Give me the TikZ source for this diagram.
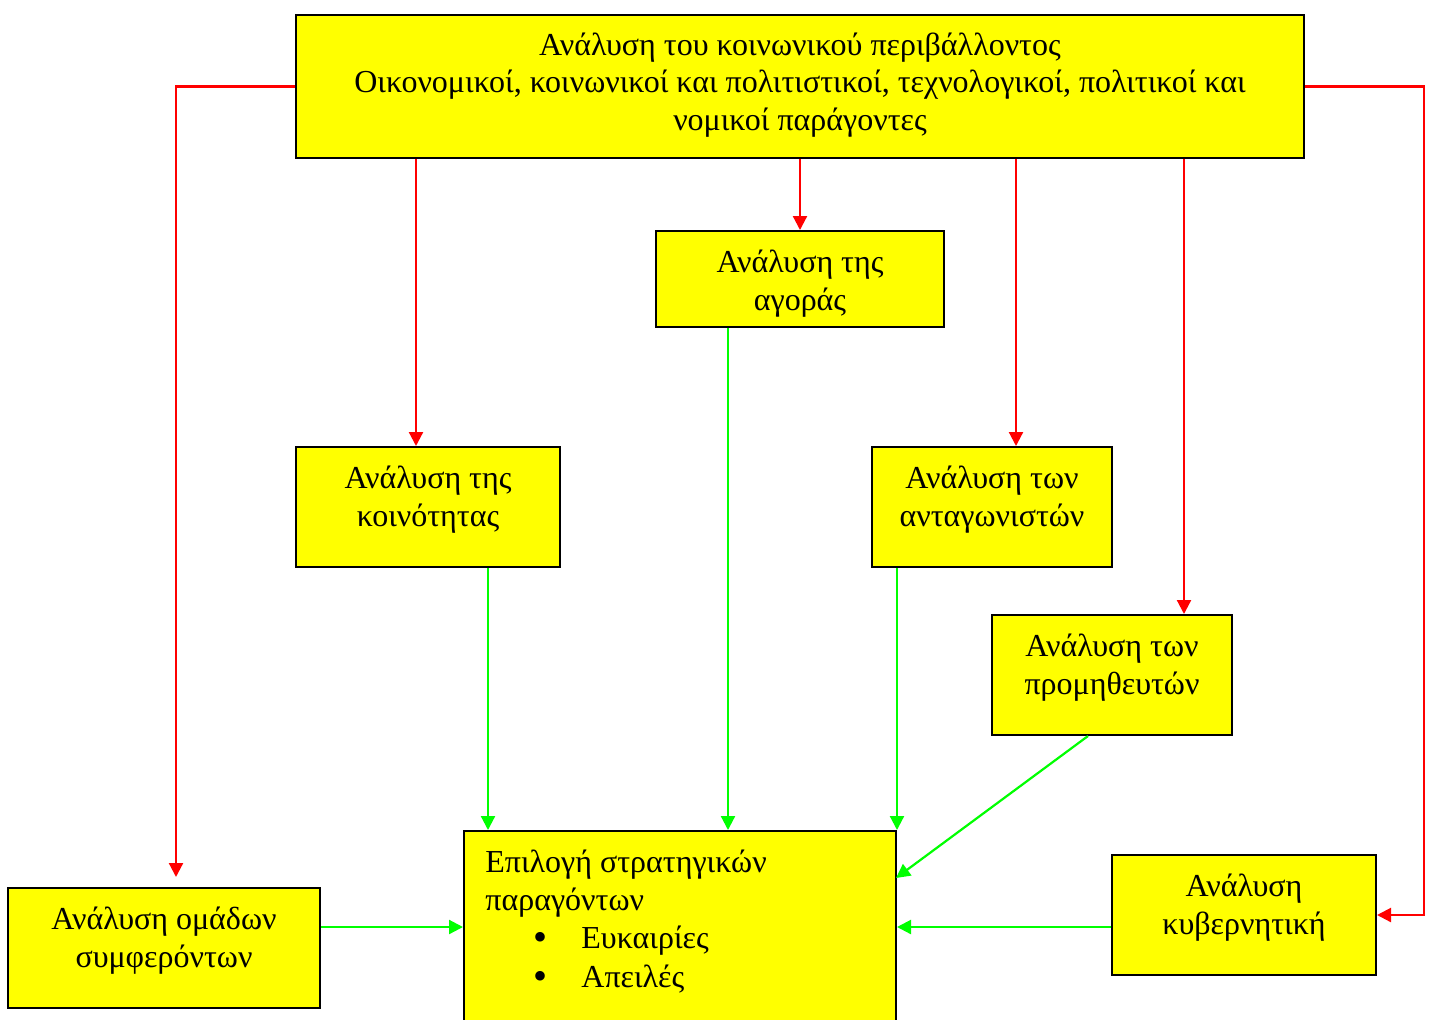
\documentclass[tikz,border=0pt]{standalone}
\usepackage{fontspec}
\setmainfont{Liberation Serif}
\usetikzlibrary{arrows.meta}
\definecolor{boxyellow}{RGB}{255,255,0}
\definecolor{linkred}{RGB}{255,0,0}
\definecolor{linkgreen}{RGB}{0,255,0}
\begin{document}
\begin{tikzpicture}[x=0.5pt,y=-0.5pt,
  box/.style={draw=black, line width=1pt, fill=boxyellow, inner sep=0pt},
  lbl/.style={font=\fontsize{16}{18.75}\selectfont, align=center, inner sep=0pt, anchor=base},
  redlink/.style={draw=linkred, line width=1.1pt, -{Triangle[length=7pt,width=7pt]}},
  greenlink/.style={draw=linkgreen, line width=1.1pt, -{Triangle[length=7pt,width=7pt]}}]
\useasboundingbox (0,0) rectangle (1435,1019);
\fill[white] (0,0) rectangle (1435,1019);
\clip (0,0) rectangle (1435,1019);

% boxes
\node[box, minimum width=504pt, minimum height=71.5pt] (env) at (800,86.5) {};
\node[box, minimum width=144pt, minimum height=48pt] (market) at (800,279) {};
\node[box, minimum width=132pt, minimum height=60pt] (community) at (428,507) {};
\node[box, minimum width=120pt, minimum height=60pt] (rivals) at (992,507) {};
\node[box, minimum width=120pt, minimum height=60pt] (suppliers) at (1112,675) {};
\node[box, minimum width=156pt, minimum height=60pt] (groups) at (164,948) {};
\node[box, minimum width=132pt, minimum height=60pt] (gov) at (1244,915) {};
\node[box, minimum width=216pt, minimum height=96pt] (choice) at (680,927) {};

% labels (anchored at the baseline of their last line)
\node[lbl] (envtxt) at (800,130) {Ανάλυση του κοινωνικού περιβάλλοντος\\Οικονομικοί, κοινωνικοί και πολιτιστικοί, τεχνολογικοί, πολιτικοί και\\νομικοί παράγοντες};
\node[lbl] (markettxt) at (800,310) {Ανάλυση της\\αγοράς};
\node[lbl] (communitytxt) at (428,526) {Ανάλυση της\\κοινότητας};
\node[lbl] (rivalstxt) at (992,526) {Ανάλυση των\\ανταγωνιστών};
\node[lbl] (supplierstxt) at (1112,694) {Ανάλυση των\\προμηθευτών};
\node[lbl] (groupstxt) at (164,967) {Ανάλυση ομάδων\\συμφερόντων};
\node[lbl] (govtxt) at (1244,934) {Ανάλυση\\κυβερνητική};
\node[lbl, align=left, anchor=base west] (choicetxt) at (485,987) {Επιλογή στρατηγικών\\παραγόντων\\[0.5pt]
  \hspace*{24pt}\makebox[24pt][l]{\fontsize{20}{19}\selectfont\raisebox{-1pt}{•}}Ευκαιρίες\\[0.5pt]
  \hspace*{24pt}\makebox[24pt][l]{\fontsize{20}{19}\selectfont\raisebox{-1pt}{•}}Απειλές};

% x positions of the vertical links
\coordinate (xa) at (416,0);
\coordinate (xb) at (1016,0);
\coordinate (xc) at (1184,0);
\coordinate (xd) at (728,0);
\coordinate (xe) at (488,0);
\coordinate (lturn) at (176,86.5);
\coordinate (rturn) at (1424,915);
\coordinate (supin) at (896,878);

% red links from the environment analysis
\draw[redlink] (env.west) -- (lturn) -- ([yshift=5pt]lturn |- groups.north);
\draw[redlink] (env.east) -| (rturn) -- (gov.east);
\draw[redlink] (env.south -| xa) -- (community.north -| xa);
\draw[redlink] (env.south -| market.north) -- (market.north);
\draw[redlink] (env.south -| xb) -- (rivals.north -| xb);
\draw[redlink] (env.south -| xc) -- (suppliers.north -| xc);

% green links into the choice of strategic factors
\draw[greenlink] (market.south -| xd) -- (choice.north -| xd);
\draw[greenlink] (community.south -| xe) -- (choice.north -| xe);
\draw[greenlink] (rivals.south -| choice.north east) -- (choice.north east);
\draw[greenlink] ([xshift=-12pt]suppliers.south) -- (supin);
\draw[greenlink] (groups.east |- choice.west) -- (choice.west);
\draw[greenlink] (gov.west |- choice.east) -- (choice.east);
\end{tikzpicture}
\end{document}
